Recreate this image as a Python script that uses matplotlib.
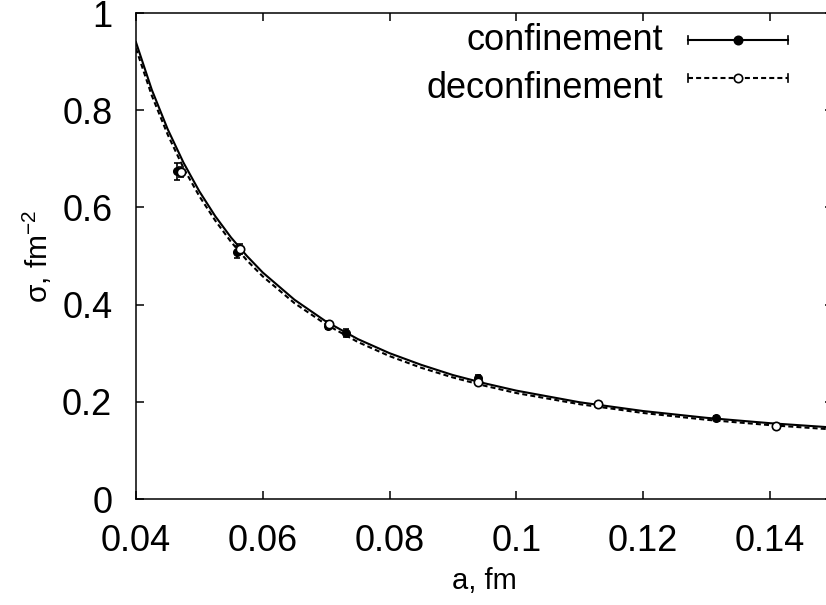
import matplotlib
matplotlib.use('Agg')
import matplotlib.pyplot as plt

plt.rcParams['font.family'] = ['Liberation Sans', 'DejaVu Sans']
plt.rcParams['mathtext.default'] = 'regular'

#############
# Data read #
#############
# confinement (filled circles)
conf_a = [0.0465, 0.0560, 0.0703, 0.0731, 0.0940, 0.1128, 0.1315]
conf_s = [0.674, 0.508, 0.357, 0.341, 0.248, 0.195, 0.167]
conf_err = [0.017, 0.012, 0.008, 0.008, 0.008, 0.005, 0.004]

# deconfinement (open circles)
dec_a = [0.0471, 0.0564, 0.0705, 0.0940, 0.1128, 0.1409]
dec_s = [0.673, 0.514, 0.360, 0.240, 0.195, 0.150]
dec_err = [0.010, 0.010, 0.007, 0.006, 0.004, 0.004]

# fit curves
fit_a = [0.04, 0.0425, 0.045, 0.0475, 0.05, 0.0525, 0.055, 0.0575, 0.06,
         0.065, 0.07, 0.075, 0.08, 0.085, 0.09, 0.095, 0.10, 0.11, 0.12,
         0.13, 0.14, 0.15]
fit_conf = [0.940, 0.842, 0.761, 0.692, 0.633, 0.582, 0.538, 0.500, 0.466,
            0.410, 0.365, 0.329, 0.300, 0.276, 0.255, 0.238, 0.223, 0.199,
            0.181, 0.167, 0.156, 0.147]
fit_dec = [0.927, 0.830, 0.750, 0.681, 0.623, 0.573, 0.529, 0.491, 0.458,
           0.403, 0.359, 0.323, 0.294, 0.270, 0.250, 0.233, 0.218, 0.195,
           0.177, 0.163, 0.152, 0.143]

xticks = [0.04, 0.06, 0.08, 0.1, 0.12, 0.14]
xtick_labels = ['0.04', '0.06', '0.08', '0.1', '0.12', '0.14']
yticks = [0, 0.2, 0.4, 0.6, 0.8, 1]
ytick_labels = ['0', '0.2', '0.4', '0.6', '0.8', '1']

fig = plt.figure(figsize=(8.26, 6.05), dpi=100)
ax = fig.add_axes([0.1646, 0.1752, 0.8444, 0.8033])

dash = (0, (2.4, 1.5))
lw = 1.5

ax.plot(fit_a, fit_conf, c='black', lw=lw, zorder=2)
ax.plot(fit_a, fit_dec, c='black', lw=lw, ls=dash, zorder=2)

ax.errorbar(conf_a, conf_s, yerr=conf_err, fmt='o', ms=5.5, c='black',
            mfc='black', mec='black', elinewidth=1.2, capsize=2.5,
            capthick=1.2, zorder=3)
ax.errorbar(dec_a, dec_s, yerr=dec_err, fmt='o', ms=6, c='black',
            mfc='white', mec='black', mew=1.2, elinewidth=1.2, capsize=2.5,
            capthick=1.2, zorder=4)

ax.set_xlim(0.04, 0.15)
ax.set_ylim(0, 1)
ax.set_xticks(xticks)
ax.set_xticklabels(xtick_labels)
ax.set_yticks(yticks)
ax.set_yticklabels(ytick_labels)
ax.tick_params(direction='in', length=5.8, width=1.1, labelsize=26,
               top=True, right=True)
ax.tick_params(axis='x', pad=18)
ax.tick_params(axis='y', pad=17)
for s in ax.spines.values():
    s.set_linewidth(1.1)

ax.set_xlabel('a, fm', size=21, labelpad=6)
ax.set_ylabel(r'σ, fm$^{-2}$', size=21.5, labelpad=6)

# gnuplot style key
tr = ax.transAxes
ax.text(0.7556, 0.9239, 'confinement', transform=tr, ha='right',
        va='baseline', size=26)
ax.text(0.7556, 0.8251, 'deconfinement', transform=tr, ha='right',
        va='baseline', size=26)
for yk, style, face in [(0.9444, '-', 'black'), (0.8663, dash, 'white')]:
    ax.plot([0.7914, 0.9348], [yk, yk], transform=tr, c='black', lw=lw,
            ls=style, clip_on=False)
    for xk in (0.7914, 0.9348):
        ax.plot([xk, xk], [yk - 0.008, yk + 0.008], transform=tr,
                c='black', lw=1.2, clip_on=False)
    ax.plot([0.8631], [yk], transform=tr, marker='o', ms=6, mfc=face,
            mec='black', mew=1.2, clip_on=False)

plt.savefig('out.png', dpi=100)
